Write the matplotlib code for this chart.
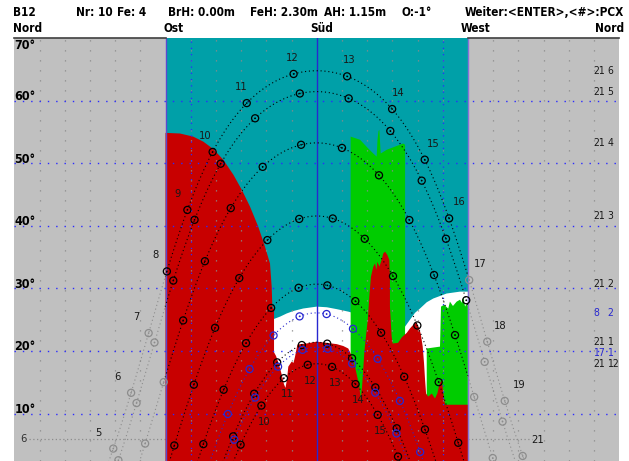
import numpy as np
import matplotlib
matplotlib.use("Agg")
import matplotlib.pyplot as plt
from matplotlib import font_manager, transforms

# === site ===
LAT = 48.6
LON = 9.0

# === sun paths: day, month, declination (deg), equation of time (min), colour ===
path_day = ["21", "21", "21", "21", "21", "8", "21", "17", "21"]
path_month = ["6", "5", "4", "3", "2", "2", "1", "1", "12"]
path_decl = [23.44, 20.1, 11.9, 0.2, -10.7, -15.3, -20.0, -20.8, -23.44]
path_eot = [-1.8, 3.5, 1.2, -7.3, -13.8, -14.1, -11.2, -10.0, 1.9]
path_blue = [False, False, False, False, False, True, False, True, False]

# hour labels on the June and December paths
june_hours = list(range(5, 20))
dec_hours = list(range(10, 16))

# === horizon (red), azimuth / altitude in degrees ===
red_az = [-90.0, -81.4, -73.5, -67.5, -61.5, -55.6, -49.6, -44.6, -39.7, -34.8,
          -30.8, -27.8, -26.8, -26.4, -25.4, -25.4, -24.2, -22.4, -20.8, -19.5,
          -18.6, -17.7, -16.9, -14.9, -13.8, -12.9, -11.5, -9.9, -6.0, 0.0,
          6.0, 11.9, 15.8, 18.8, 20.2, 22.8, 25.4, 26.2, 27.0, 27.7,
          28.3, 29.3, 30.4, 31.4, 32.3, 33.7, 34.7, 35.6, 36.1, 37.3,
          38.7, 39.6, 40.7, 42.0, 43.2, 43.6, 43.6, 44.6, 45.2, 48.4,
          50.7, 53.6, 55.5, 57.5, 59.1, 60.5, 61.9, 63.1, 63.9, 64.5,
          65.1, 66.4, 68.5, 70.4, 71.8, 73.0, 74.4, 75.4, 76.4, 90.0]
red_alt = [54.9, 54.8, 54.3, 53.5, 52.3, 50.6, 48.2, 45.8, 43.1, 39.9,
           36.7, 34.0, 30.3, 27.1, 26.6, 19.8, 19.2, 17.8, 16.2, 14.7,
           14.1, 15.4, 17.5, 18.3, 18.1, 19.1, 21.0, 21.1, 21.2, 21.5,
           21.3, 21.1, 20.8, 20.4, 19.6, 17.5, 14.3, 12.2, 14.3, 17.0,
           19.6, 22.3, 25.0, 29.0, 31.9, 33.5, 34.0, 33.0, 34.3, 33.5,
           34.6, 35.6, 35.9, 35.4, 34.6, 31.9, 27.1, 22.3, 21.2, 21.3,
           22.2, 22.9, 23.6, 24.2, 24.7, 23.9, 22.8, 20.7, 18.0, 15.4,
           13.2, 12.7, 13.2, 12.4, 13.2, 14.6, 15.4, 13.2, 11.4, 11.4]

# trees (green)
tree1_az = [20.2, 20.2, 25.8, 30.7, 33.7, 35.7, 36.2, 36.8, 37.3, 37.8,
            38.1, 41.7, 46.6, 51.5, 52.6, 52.6]
tree1_alt = [0.0, 54.3, 53.8, 52.4, 51.6, 51.1, 53.8, 55.2, 55.4, 53.0,
             51.6, 52.2, 52.7, 53.2, 53.0, 0.0]
tree2_az = [65.5, 65.5, 73.4, 74.0, 75.8, 78.3, 79.3, 81.1, 83.3, 85.3,
            86.5, 87.3, 88.3, 89.3, 90.0, 90.0]
tree2_alt = [0.0, 20.4, 20.7, 27.1, 27.4, 26.8, 27.9, 27.2, 27.9, 28.2,
             27.7, 28.7, 27.1, 27.6, 27.6, 0.0]

# overhang shadow edge (white below)
edge_az = [-25.7, -21.8, -17.9, -13.9, -8.0, 0.0, 6.0, 11.9, 18.8, 25.8,
           43.6, 52.6, 55.5, 58.5, 61.5, 65.5, 69.4, 77.4, 85.3, 90.0]
edge_alt = [25.1, 25.5, 26.0, 26.4, 26.8, 27.1, 27.0, 26.7, 26.3, 25.8,
            24.4, 23.9, 25.0, 26.1, 26.8, 27.8, 28.4, 29.2, 29.5, 29.5]

GRAY = "#c0c0c0"
TEAL = "#00a0a8"
RED = "#c80000"
GREEN = "#00cc00"
BLUE = "#2828d0"
DOTBLUE = "#2a2aff"

names = {f.name for f in font_manager.fontManager.ttflist}
NARROW = "Liberation Sans Narrow" if "Liberation Sans Narrow" in names else "DejaVu Sans"
FONT = dict(family=[NARROW, "DejaVu Sans"], fontstretch="condensed")


def sun_position(decl, eot, hours):
    st = hours + (LON - 15.0) / 15.0 + eot / 60.0
    h = np.radians(15.0 * (st - 12.0))
    d = np.radians(decl)
    p = np.radians(LAT)
    alt = np.degrees(np.arcsin(np.sin(p) * np.sin(d) + np.cos(p) * np.cos(d) * np.cos(h)))
    az = np.degrees(np.arctan2(np.sin(h), np.cos(h) * np.sin(p) - np.tan(d) * np.cos(p)))
    return az, alt


W, H = 629, 461
fig = plt.figure(figsize=(W / 100, H / 100), dpi=100)
fig.patch.set_facecolor("white")
ax = fig.add_axes([14.3 / W, 0, 604.8 / W, 423 / H])
ax.set_xlim(-180, 180)
ax.set_ylim(2.4, 70.08)
ax.set_facecolor(GRAY)
for s in ax.spines.values():
    s.set_visible(False)
ax.set_xticks([])
ax.set_yticks([])

# sky in front of the window, horizon, trees
ax.axvspan(-90, 90, color=TEAL, lw=0, zorder=0.5)
ax.fill(np.r_[edge_az, 90, edge_az[0]], np.r_[edge_alt, 0, 0], color="white", lw=0, zorder=1)
ax.fill(tree1_az, tree1_alt, color=GREEN, lw=0, zorder=1.5)
ax.fill(tree2_az, tree2_alt, color=GREEN, lw=0, zorder=1.5)
ax.plot([-171, 128], [6, 6], color="#8c8c8c", ls=(0, (1, 2)), lw=0.9, zorder=1.8)
ax.fill(np.r_[red_az, 90, -90], np.r_[red_alt, 0, 0], color=RED, lw=0, zorder=2)

# grid
for a in range(-165, 180, 15):
    if a in (0, -90, 90):
        continue
    ax.axvline(a, color="#8c8c8c", ls=(0, (1, 7)), lw=0.9, zorder=3)
for a in (-75, 75):
    ax.axvline(a, color=DOTBLUE, ls=(0, (1, 4)), lw=0.9, zorder=3)
for v in range(10, 70, 10):
    ax.axhline(v, color=DOTBLUE, ls=(0, (1, 5)), lw=1.0, zorder=3)
ax.axvline(0, color=BLUE, lw=1.0, zorder=3)
ax.axvline(-90, color="#5a4ad0", lw=1.0, zorder=3)
ax.axvline(90, color="#8a70d8", lw=1.0, zorder=3)
ax.plot([-180, -90], [70.08, 70.08], color="#404040", lw=1.2, clip_on=False, zorder=3)
ax.plot([90, 180], [70.08, 70.08], color="#404040", lw=1.2, clip_on=False, zorder=3)

# sun paths
t = np.arange(3, 22.01, 0.02)
hrs = np.arange(4, 22)
peaks = []
for decl, eot, blue in zip(path_decl, path_eot, path_blue):
    az, alt = sun_position(decl, eot, t)
    alt = np.where(alt > 0, alt, np.nan)
    peaks.append(np.nanmax(alt))
    inside = np.abs(az) <= 90
    ins = inside | np.roll(inside, 1) | np.roll(inside, -1)
    out = ~inside | np.roll(~inside, 1) | np.roll(~inside, -1)
    col = BLUE if blue else "black"
    ax.plot(np.where(ins, az, np.nan), alt, color=col, ls=(0, (1, 2.5)), lw=0.8, zorder=4)
    ax.plot(np.where(out, az, np.nan), alt, color="#8c8c8c", ls=(0, (1, 2.5)), lw=0.8, zorder=4)

    maz, malt = sun_position(decl, eot, hrs)
    keep = malt > 0
    maz, malt = maz[keep], malt[keep]
    cols = np.where(np.abs(maz) <= 90, col, "#8c8c8c")
    ax.scatter(maz, malt, s=26, facecolors="none", edgecolors=cols, linewidths=0.9, zorder=5)
    ax.scatter(maz, malt, s=1.5, c=cols, lw=0, zorder=5)

# hour numbers
lab = dict(fontsize=8, color="#181818", ha="center", va="center", zorder=6, **FONT)
haz, halt = sun_position(path_decl[0], path_eot[0], np.array(june_hours, float))
for h, a, e in zip(june_hours, haz, halt):
    ax.annotate(str(h), (a, e), xytext=(0.126 * a, 16), textcoords="offset pixels", **lab)
ax.annotate("21", (131.5, 5.8), **lab)
haz, halt = sun_position(path_decl[-1], path_eot[-1], np.array(dec_hours, float))
for h, a, e in zip(dec_hours, haz, halt):
    ax.annotate(str(h), (a, e), xytext=(3, -16), textcoords="offset pixels", **lab)

# date labels on the right, kept apart when noon heights are close
prev = None
for day, mon, pk, blue in zip(path_day, path_month, peaks, path_blue):
    y = pk if prev is None else min(pk, prev - 1.65)
    prev = y
    c = BLUE if blue else "#181818"
    ax.text(164.5, y, day, fontsize=7.5, color=c, ha="left", va="center", zorder=6, **FONT)
    ax.text(173.1, y, mon, fontsize=7.5, color=c, ha="left", va="center", zorder=6, **FONT)

# altitude scale
trans = transforms.blended_transform_factory(ax.transAxes, ax.transData)
for v in range(10, 80, 10):
    y = v + 0.7 if v < 70 else v - 1.2
    ax.text(0.0, y, f"{v}°", transform=trans, fontsize=9, fontweight="bold",
            ha="left", va="center", zorder=6, clip_on=False, **FONT)
ax.text(0.01, 6.0, "6", transform=trans, fontsize=8, color="#303030",
        ha="left", va="center", zorder=6, **FONT)

# header
hdr = dict(fontsize=8.5, fontweight="bold", va="center", **FONT)
row1 = [(13, "B12"), (76, "Nr: 10"), (117, "Fe: 4"), (168, "BrH: 0.00m"),
        (250, "FeH: 2.30m"), (324, "AH: 1.15m"), (401, "O:-1°")]
for x, s in row1:
    fig.text(x / W, 1 - 13 / H, s, ha="left", **hdr)
fig.text(624 / W, 1 - 13 / H, "Weiter:<ENTER>,<#>:PCX", ha="right", **hdr)
row2 = [(13, "Nord"), (164, "Ost"), (310, "Süd"), (461, "West")]
for x, s in row2:
    fig.text(x / W, 1 - 29 / H, s, ha="left", **hdr)
fig.text(624 / W, 1 - 29 / H, "Nord", ha="right", **hdr)

fig.savefig("out.png", dpi=100)
